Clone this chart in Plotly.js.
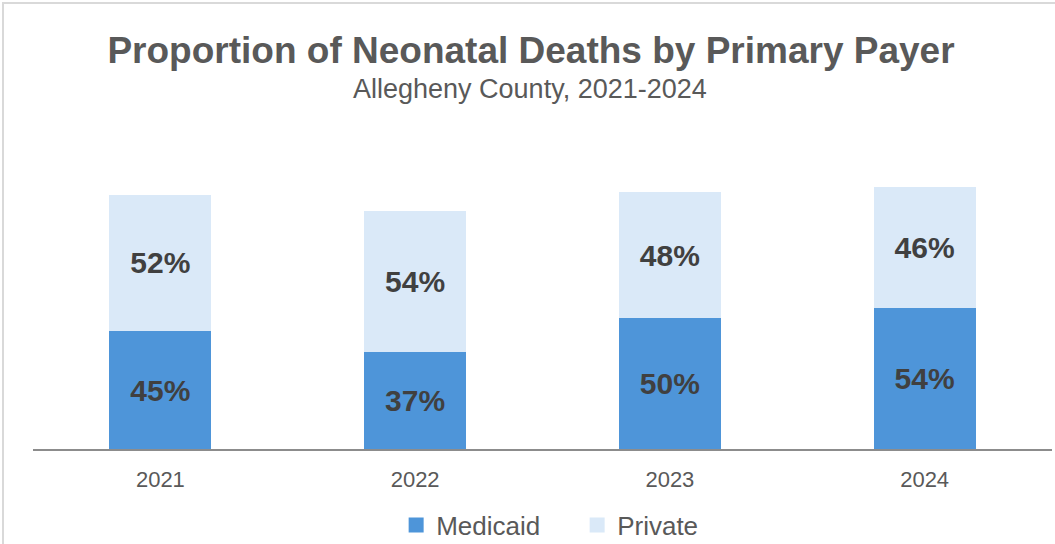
<!DOCTYPE html>
<html>
<head>
<meta charset="utf-8">
<script src="https://cdn.plot.ly/plotly-3.0.1.min.js"></script>
<style>
  html, body { margin: 0; padding: 0; background: #fff; }
  #chart { width: 1055px; height: 544px; }
  #frame { position: absolute; top: 2px; left: 2px; width: 1053px; height: 542px;
           border-top: 2px solid #d9d9d9; border-left: 2px solid #d9d9d9;
           box-sizing: border-box; pointer-events: none; }
</style>
</head>
<body>
<div id="chart"></div>
<div id="frame"></div>
<script>
const years = ['2021', '2022', '2023', '2024'];
const medicaid = [45, 37, 50, 54];
const privatePay = [52, 54, 48, 46];
const seriesNames = ['Medicaid', 'Private'];
const seriesColors = ['#4E95D9', '#DAE9F8'];
const titleText = 'Proportion of Neonatal Deaths by Primary Payer';
const subtitleText = 'Allegheny County, 2021-2024';

const FONT = 'Liberation Sans, Arial, sans-serif';
const labelFont = { family: FONT, size: 30, color: '#404040', weight: 'bold' };

function barTrace(i, values) {
  return {
    type: 'bar', name: seriesNames[i], x: years, y: values,
    marker: { color: seriesColors[i], line: { width: 0 } },
    texttemplate: '%{y}%', textposition: 'inside', insidetextanchor: 'middle',
    textfont: labelFont, insidetextfont: labelFont, constraintext: 'none',
    hoverinfo: 'skip', showlegend: false
  };
}
function legendTrace(i) {
  return {
    type: 'scatter', mode: 'markers', name: seriesNames[i], x: [null], y: [null],
    marker: { symbol: 'square', size: 15, color: seriesColors[i] },
    hoverinfo: 'skip', showlegend: true
  };
}

const traces = [barTrace(0, medicaid), barTrace(1, privatePay), legendTrace(0), legendTrace(1)];

const layout = {
  width: 1055, height: 544,
  margin: { l: 32.5, r: 2.5, t: 140, b: 95, autoexpand: false },
  paper_bgcolor: '#ffffff', plot_bgcolor: '#ffffff',
  barmode: 'stack', bargap: 0.6,
  showlegend: true,
  title: {
    text: '<b>' + titleText + '</b>',
    font: { family: FONT, size: 37, color: '#595959' },
    x: 531 / 1055, xanchor: 'center', xref: 'container',
    y: 1 - 50 / 544, yanchor: 'middle', yref: 'container'
  },
  annotations: [{
    text: subtitleText, xref: 'paper', yref: 'paper', x: (530 - 32.5) / 1020, y: 1 + (140 - 89) / 309,
    xanchor: 'center', yanchor: 'middle', showarrow: false,
    font: { family: FONT, size: 27, color: '#595959' }
  }],
  xaxis: {
    type: 'category', range: [-0.5, 3.5], showgrid: false, zeroline: false,
    showline: true, linecolor: '#8c8c8c', linewidth: 2, ticks: '',
    ticklabelstandoff: 10,
    tickfont: { family: FONT, size: 22, color: '#595959' }
  },
  yaxis: {
    range: [0, 309 / 2.62], visible: false, showgrid: false, zeroline: false, fixedrange: true
  },
  legend: {
    orientation: 'h', xref: 'paper', x: (396 - 32.5) / 1020, xanchor: 'left',
    yref: 'container', y: 1 - 525 / 544, yanchor: 'middle',
    font: { family: FONT, size: 26, color: '#595959' },
    itemwidth: 30, traceorder: 'normal', entrywidth: 136, entrywidthmode: 'pixels'
  }
};

Plotly.newPlot('chart', traces, layout, { displayModeBar: false, staticPlot: true });
</script>
</body>
</html>
